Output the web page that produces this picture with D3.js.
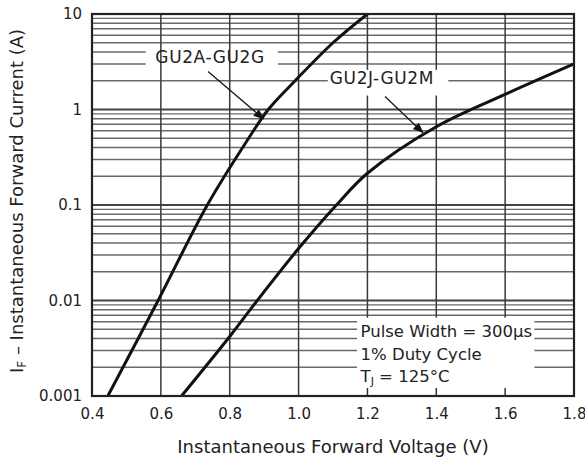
<!doctype html>
<html lang="en">
<head>
    <meta charset="UTF-8">
    <title>Forward characteristics</title>
    <script type="text/javascript" src="https://cdn.jsdelivr.net/npm/d3@7"></script>
    <style type="text/css">
        body { margin: 0; background: #fff; }
        svg { display: block; }
        text { font-family: "DejaVu Sans", sans-serif; fill: #222; }
    </style>
</head>
<body>
<script type="text/javascript">
    var width = 585;
    var height = 461;
    var margin = {top: 14, right: 11, bottom: 65, left: 92};

    // data
    var x_ticks = [0.4, 0.6, 0.8, 1.0, 1.2, 1.4, 1.6, 1.8];
    var y_ticks = [0.001, 0.01, 0.1, 1, 10];
    var y_tick_labels = ["0.001", "0.01", "0.1", "1", "10"];

    var volts_a = [0.446, 0.592, 0.735, 0.855, 0.912, 0.99, 1.1, 1.2];
    var amps_a = [0.001, 0.01, 0.1, 0.5, 1, 2, 5, 10];

    var volts_j = [0.66, 0.8, 0.88, 1.0, 1.11, 1.2, 1.4, 1.6, 1.8];
    var amps_j = [0.001, 0.0042, 0.01, 0.035, 0.1, 0.215, 0.66, 1.44, 3.0];

    var series_names = ["GU2A-GU2G", "GU2J-GU2M"];
    var notes = ["Pulse Width = 300\u00b5s", "1% Duty Cycle"];

    var x_scale = d3.scaleLinear().domain([0.4, 1.8])
        .range([margin.left, width - margin.right]);
    var y_scale = d3.scaleLog().domain([0.001, 10])
        .range([height - margin.bottom, margin.top]);

    var svg = d3.select("body").append("svg")
        .attr("width", width).attr("height", height);

    var defs = svg.append("defs");
    defs.append("clipPath").attr("id", "plot")
        .append("rect")
        .attr("x", margin.left).attr("y", margin.top)
        .attr("width", width - margin.left - margin.right)
        .attr("height", height - margin.top - margin.bottom);
    defs.append("marker").attr("id", "head")
        .attr("viewBox", "0 0 10 10").attr("refX", 9).attr("refY", 5)
        .attr("markerWidth", 9).attr("markerHeight", 9)
        .attr("orient", "auto")
        .append("path").attr("d", "M0,1L10,5L0,9z").attr("fill", "#111");

    // log grid lines
    var minor = [];
    for (var e = -3; e < 1; e++) {
        for (var m = 2; m <= 9; m++) minor.push(m * Math.pow(10, e));
    }
    var grid = svg.append("g");
    grid.selectAll("line.minor").data(minor).enter().append("line")
        .attr("class", "minor")
        .attr("x1", margin.left).attr("x2", width - margin.right)
        .attr("y1", function (d) { return y_scale(d); })
        .attr("y2", function (d) { return y_scale(d); })
        .attr("stroke", "#6a6a6a").attr("stroke-width", 1.4);
    grid.selectAll("line.major").data(y_ticks).enter().append("line")
        .attr("class", "major")
        .attr("x1", margin.left).attr("x2", width - margin.right)
        .attr("y1", function (d) { return y_scale(d); })
        .attr("y2", function (d) { return y_scale(d); })
        .attr("stroke", "#444").attr("stroke-width", 2);

    // white patch behind the first label (vertical grid stays on top of it)
    svg.append("rect")
        .attr("x", x_scale(0.556)).attr("y", y_scale(4.3))
        .attr("width", x_scale(0.94) - x_scale(0.556))
        .attr("height", y_scale(2.2) - y_scale(4.3))
        .attr("fill", "#fff");

    var vgrid = svg.append("g");
    vgrid.selectAll("line").data(x_ticks.slice(1, -1)).enter().append("line")
        .attr("x1", function (d) { return x_scale(d); })
        .attr("x2", function (d) { return x_scale(d); })
        .attr("y1", margin.top).attr("y2", height - margin.bottom)
        .attr("stroke", "#3a3a3a").attr("stroke-width", 1.5);

    svg.append("rect")
        .attr("x", x_scale(1.085)).attr("y", y_scale(2.6))
        .attr("width", x_scale(1.435) - x_scale(1.085))
        .attr("height", y_scale(1.4) - y_scale(2.6))
        .attr("fill", "#fff");
    svg.append("rect")
        .attr("x", x_scale(1.17)).attr("y", y_scale(0.0066))
        .attr("width", x_scale(1.685) - x_scale(1.17))
        .attr("height", height - margin.bottom - y_scale(0.0066))
        .attr("fill", "#fff");

    // short inner ticks on the bottom edge
    svg.selectAll("line.inner").data([1.2, 1.4, 1.6]).enter().append("line")
        .attr("class", "inner")
        .attr("x1", function (d) { return x_scale(d); })
        .attr("x2", function (d) { return x_scale(d); })
        .attr("y1", height - margin.bottom).attr("y2", height - margin.bottom - 8)
        .attr("stroke", "#333").attr("stroke-width", 1.5);

    // curves
    var line = d3.line()
        .x(function (d) { return x_scale(d[0]); })
        .y(function (d) { return y_scale(d[1]); })
        .curve(d3.curveCatmullRom.alpha(0.5));
    var curves = [d3.zip(volts_a, amps_a), d3.zip(volts_j, amps_j)];
    svg.append("g").attr("clip-path", "url(#plot)")
        .selectAll("path").data(curves).enter().append("path")
        .attr("d", line)
        .attr("fill", "none").attr("stroke", "#111").attr("stroke-width", 3);

    // plot frame
    svg.append("rect")
        .attr("x", margin.left).attr("y", margin.top)
        .attr("width", width - margin.left - margin.right)
        .attr("height", height - margin.top - margin.bottom)
        .attr("fill", "none").attr("stroke", "#222").attr("stroke-width", 2.2);

    // axes
    var x_axis = d3.axisBottom(x_scale).tickValues(x_ticks).tickSize(0).tickPadding(12)
        .tickFormat(d3.format(".1f"));
    var gx = svg.append("g")
        .attr("transform", "translate(0," + (height - margin.bottom) + ")")
        .call(x_axis);
    var y_axis = d3.axisLeft(y_scale).tickValues(y_ticks).tickSize(0).tickPadding(10)
        .tickFormat(function (d, i) { return y_tick_labels[i]; });
    var gy = svg.append("g")
        .attr("transform", "translate(" + margin.left + ",0)")
        .call(y_axis);
    [gx, gy].forEach(function (g) {
        g.select(".domain").remove();
        g.selectAll("text").attr("font-family", "DejaVu Sans")
            .attr("font-size", "15px").attr("fill", "#333");
    });

    // series labels with arrows
    var labels = [
        {name: series_names[0], at: [0.743, 3.1], from: [0.737, 2.5], to: [0.898, 0.8]},
        {name: series_names[1], at: [1.242, 1.85], from: [1.251, 1.37], to: [1.361, 0.574]}
    ];
    svg.selectAll("text.series").data(labels).enter().append("text")
        .attr("class", "series")
        .attr("x", function (d) { return x_scale(d.at[0]); })
        .attr("y", function (d) { return y_scale(d.at[1]); })
        .attr("text-anchor", "middle")
        .attr("font-family", "DejaVu Sans Mono")
        .attr("font-size", "17px").attr("letter-spacing", "0.6px")
        .attr("fill", "#333")
        .text(function (d) { return d.name; });
    svg.selectAll("line.arrow").data(labels).enter().append("line")
        .attr("class", "arrow")
        .attr("x1", function (d) { return x_scale(d.from[0]); })
        .attr("y1", function (d) { return y_scale(d.from[1]); })
        .attr("x2", function (d) { return x_scale(d.to[0]); })
        .attr("y2", function (d) { return y_scale(d.to[1]); })
        .attr("stroke", "#111").attr("stroke-width", 1.2)
        .attr("marker-end", "url(#head)");

    // test conditions
    var note = svg.append("g").attr("font-size", "16.5px");
    note.selectAll("text.note").data(notes).enter().append("text")
        .attr("class", "note")
        .attr("x", x_scale(1.18))
        .attr("y", function (d, i) { return 337 + i * 22.5; })
        .attr("fill", "#333")
        .text(function (d) { return d; });
    var tj = note.append("text").attr("x", x_scale(1.18)).attr("y", 382).attr("fill", "#333");
    tj.append("tspan").text("T");
    tj.append("tspan").attr("font-size", "11px").attr("dy", 3).text("J");
    tj.append("tspan").attr("dy", -3).text(" = 125\u00b0C");

    // axis titles
    svg.append("text")
        .attr("x", (margin.left + width - margin.right) / 2)
        .attr("y", 453)
        .attr("text-anchor", "middle")
        .attr("font-size", "18px").attr("fill", "#333")
        .text("Instantaneous Forward Voltage (V)");
    var yt = svg.append("text")
        .attr("transform", "translate(23," + ((margin.top + height - margin.bottom) / 2 - 4) + ") rotate(-90)")
        .attr("text-anchor", "middle")
        .attr("font-size", "18px").attr("fill", "#333");
    yt.append("tspan").text("I");
    yt.append("tspan").attr("font-size", "12px").attr("dy", 3).text("F");
    yt.append("tspan").attr("dy", -3).text(" \u2013 Instantaneous Forward Current (A)");
</script>
</body>
</html>
